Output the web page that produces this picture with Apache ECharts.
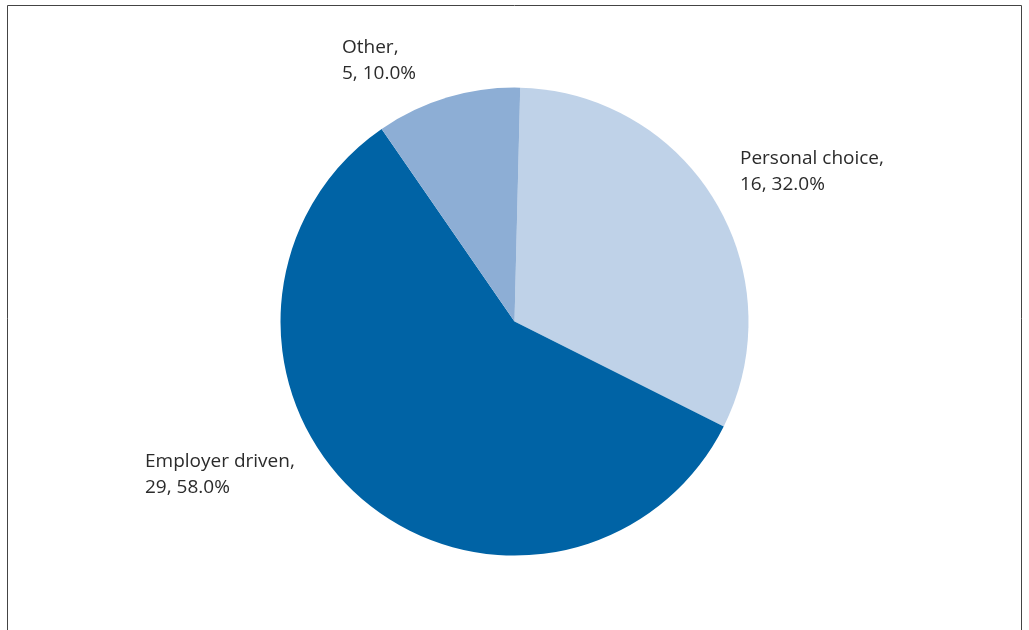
<!DOCTYPE html>
<html>
<head>
<meta charset="utf-8">
<script src="https://cdn.jsdelivr.net/npm/echarts@6/dist/echarts.min.js"></script>
<style>
  html, body { margin: 0; padding: 0; background: #ffffff; }
  #chart { width: 1029px; height: 630px; }
</style>
</head>
<body>
<div id="chart"></div>
<script>
// Reasons for the move, count of respondents
const categories = ['Personal choice', 'Employer driven', 'Other'];
const counts = [16, 29, 5];
const colors = ['#bfd2e8', '#0063a5', '#8daed5'];

// Where each label's top-left corner sits
const labelAnchors = [
  { x: 740, y: 146 },
  { x: 145, y: 449 },
  { x: 342, y: 35 }
];

const total = counts.reduce((a, b) => a + b, 0);

const chart = echarts.init(document.getElementById('chart'), null, { renderer: 'canvas' });

chart.setOption({
  animation: false,
  backgroundColor: '#ffffff',
  graphic: [{
    type: 'rect',
    shape: { x: 7.5, y: 5.5, width: 1014, height: 700 },
    style: { fill: 'none', stroke: '#444444', lineWidth: 1 },
    silent: true
  }],
  series: [{
    type: 'pie',
    center: [514.5, 321.6],
    radius: 234,
    startAngle: 88.6,
    clockwise: true,
    avoidLabelOverlap: false,
    data: categories.map((name, i) => ({
      name: name,
      value: counts[i],
      itemStyle: { color: colors[i] }
    })),
    itemStyle: { borderWidth: 0 },
    label: {
      show: true,
      position: 'outside',
      formatter: (p) => p.name + ',\n' + p.value + ', ' + (p.value / total * 100).toFixed(1) + '%',
      fontFamily: 'Open Sans',
      fontSize: 19,
      lineHeight: 26,
      color: '#2b2b2b',
      align: 'left'
    },
    labelLine: { show: false },
    labelLayout: (params) => ({
      x: labelAnchors[params.dataIndex].x,
      y: labelAnchors[params.dataIndex].y,
      align: 'left',
      verticalAlign: 'top'
    }),
    emphasis: { disabled: true }
  }]
});
</script>
</body>
</html>
